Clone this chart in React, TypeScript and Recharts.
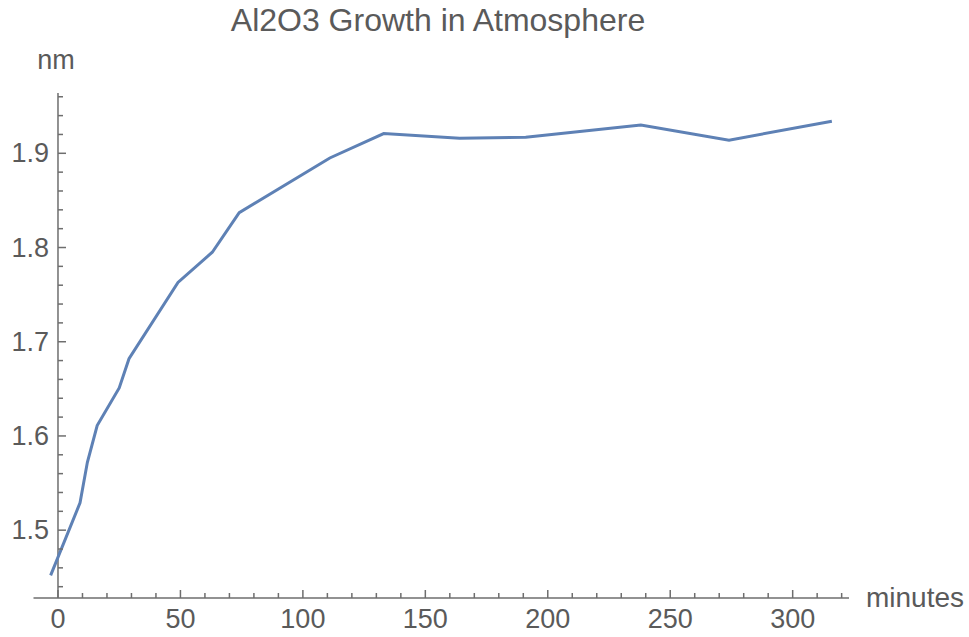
import { Line, LineChart, ReferenceLine, XAxis, YAxis } from "recharts";

// Al2O3 thickness (nm) vs exposure time (minutes)
const MINUTES = [-3, 9, 12, 16, 25, 29, 49, 63, 74, 111, 133, 164, 191, 238, 274, 316];
const THICKNESS = [
  1.452, 1.529, 1.572, 1.611, 1.651, 1.682, 1.763, 1.795, 1.837, 1.895, 1.921, 1.916, 1.917,
  1.93, 1.914, 1.934,
];

const X_TICKS = [
  0, 10, 20, 30, 40, 50, 60, 70, 80, 90, 100, 110, 120, 130, 140, 150, 160, 170, 180, 190, 200,
  210, 220, 230, 240, 250, 260, 270, 280, 290, 300, 310, 320,
];
const X_LABELS = [0, 50, 100, 150, 200, 250, 300];
const Y_TICKS = [
  1.44, 1.46, 1.48, 1.5, 1.52, 1.54, 1.56, 1.58, 1.6, 1.62, 1.64, 1.66, 1.68, 1.7, 1.72, 1.74,
  1.76, 1.78, 1.8, 1.82, 1.84, 1.86, 1.88, 1.9, 1.92, 1.94, 1.96,
];
const Y_LABELS = [1.5, 1.6, 1.7, 1.8, 1.9];

const data = MINUTES.map((t, i) => ({ t, nm: THICKNESS[i] }));

const W = 969;
const H = 637;
const MARGIN = { top: 93, right: 120, bottom: 9, left: 0 };
const Y_AXIS_W = 33.5;
const X_DOMAIN: [number, number] = [-10, 323];
const PLOT_W = W - MARGIN.left - MARGIN.right - Y_AXIS_W;
// y axis sits at t = 0, not at the plot's left edge
const Y_SHIFT = (PLOT_W * (0 - X_DOMAIN[0])) / (X_DOMAIN[1] - X_DOMAIN[0]);

const AXIS = "#6e6e6e";
const TEXT = "#5a5a5a";
const FONT = "'Liberation Sans', Arial, sans-serif";

const near = (list: number[], v: number) => list.some((l) => Math.abs(l - v) < 1e-6);

function XTick({ x, y, payload }: any) {
  const major = near(X_LABELS, payload.value);
  return (
    <g>
      <line x1={x} x2={x} y1={y} y2={y - (major ? 8 : 5)} stroke={AXIS} strokeWidth={1.5} />
      {major && (
        <text x={x} y={y + 21} textAnchor="middle" dominantBaseline="central" fill={TEXT} fontSize={27} fontFamily={FONT}>
          {payload.value}
        </text>
      )}
    </g>
  );
}

function YTick({ x, y, payload }: any) {
  const major = near(Y_LABELS, payload.value);
  const ax = x + Y_SHIFT;
  return (
    <g>
      <line x1={ax} x2={ax + (major ? 8 : 5)} y1={y} y2={y} stroke={AXIS} strokeWidth={1.5} />
      {major && (
        <text x={ax - 9} y={y} textAnchor="end" dominantBaseline="central" fill={TEXT} fontSize={27} fontFamily={FONT}>
          {payload.value.toFixed(1)}
        </text>
      )}
    </g>
  );
}

export default function App() {
  return (
    <div style={{ position: "absolute", left: 0, top: 0, width: W, height: H, background: "#fff" }}>
      <LineChart width={W} height={H} data={data} margin={MARGIN}>
        <XAxis
          type="number"
          dataKey="t"
          domain={X_DOMAIN}
          ticks={X_TICKS}
          interval={0}
          height={30}
          tickSize={0}
          tickMargin={0}
          tickLine={false}
          axisLine={{ stroke: AXIS, strokeWidth: 1.5 }}
          tick={<XTick />}
        />
        <YAxis
          type="number"
          domain={[1.428, 1.964]}
          ticks={Y_TICKS}
          interval={0}
          width={Y_AXIS_W}
          tickSize={0}
          tickMargin={0}
          tickLine={false}
          axisLine={false}
          tick={<YTick />}
        />
        <ReferenceLine x={0} stroke={AXIS} strokeWidth={1.5} />
        <Line
          type="linear"
          dataKey="nm"
          stroke="#5E81B5"
          strokeWidth={3}
          dot={false}
          isAnimationActive={false}
        />
        <text x={438} y={20} textAnchor="middle" dominantBaseline="central" fill={TEXT} fontSize={32} fontFamily={FONT}>
          Al2O3 Growth in Atmosphere
        </text>
        <text x={56} y={60} textAnchor="middle" dominantBaseline="central" fill={TEXT} fontSize={27} fontFamily={FONT}>
          nm
        </text>
        <text x={866} y={597} textAnchor="start" dominantBaseline="central" fill={TEXT} fontSize={28} fontFamily={FONT}>
          minutes
        </text>
      </LineChart>
    </div>
  );
}
